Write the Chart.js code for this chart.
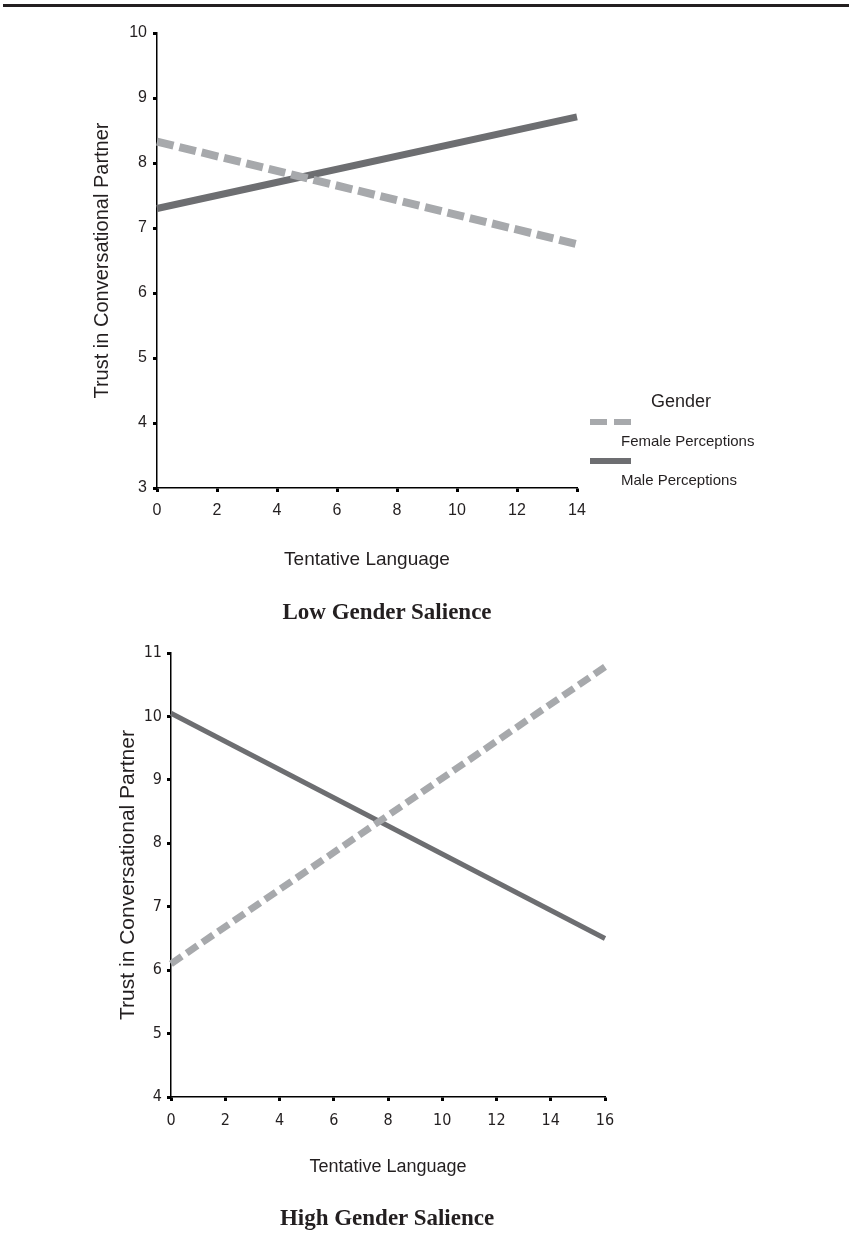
<!DOCTYPE html>
<html>
<head>
<meta charset="utf-8">
<title>Trust in Conversational Partner</title>
<script src="https://cdn.jsdelivr.net/npm/chart.js@4.4.1/dist/chart.umd.min.js"></script>
<style>
    body {
        margin: 0;
        background: #fff;
        width: 852px;
        height: 1233px;
        position: relative;
        overflow: hidden;
    }
    .rule {
        position: absolute;
        left: 3px;
        top: 4px;
        width: 846px;
        height: 3px;
        background: #231f20;
    }
    .box {
        position: absolute;
        left: 0;
        width: 852px;
        height: 600px;
    }
    .caption {
        position: absolute;
        left: 187px;
        width: 400px;
        text-align: center;
        font: bold 23px "Liberation Serif", "Times New Roman", serif;
        line-height: 26px;
        color: #231f20;
    }
</style>
</head>
<body>
<div class="rule"></div>
<div class="box" style="top:0"><canvas id="lowChart" width="852" height="600"></canvas></div>
<div class="caption" style="top:599px">Low Gender Salience</div>
<div class="box" style="top:620px"><canvas id="highChart" width="852" height="600"></canvas></div>
<div class="caption" style="top:1205px">High Gender Salience</div>

<script>
// Datos
const seriesNames = ["Female Perceptions", "Male Perceptions"];
const legendTitle = "Gender";
const xTitle = "Tentative Language";
const yTitle = "Trust in Conversational Partner";

// Low gender salience (panel superior)
const lowX = [0, 14];
const lowFemale = [8.33, 6.75];
const lowMale = [7.3, 8.71];

// High gender salience (panel inferior)
const highX = [0, 16];
const highFemale = [6.1, 10.78];
const highMale = [10.05, 6.5];

const textColor = "#231f20";
const femaleColor = "#a7a9ac";
const maleColor = "#6d6e71";

function points(xs, ys) {
    return xs.map((x, i) => ({ x: x, y: ys[i] }));
}

// Leyenda dibujada a mano a la derecha del panel superior
const genderLegend = {
    id: "genderLegend",
    afterDraw(chart) {
        const ctx = chart.ctx;
        ctx.save();
        ctx.fillStyle = textColor;
        ctx.textBaseline = "middle";
        ctx.textAlign = "center";
        ctx.font = '18px "Liberation Sans", Arial, sans-serif';
        ctx.fillText(legendTitle, 681, 402);

        ctx.textAlign = "left";
        ctx.font = '15px "Liberation Sans", Arial, sans-serif';
        const rows = [422, 461];
        chart.data.datasets.forEach((ds, i) => {
            ctx.strokeStyle = ds.borderColor;
            ctx.lineWidth = 6;
            ctx.setLineDash(ds.borderDash && ds.borderDash.length ? [17, 7] : []);
            ctx.beginPath();
            ctx.moveTo(590, rows[i]);
            ctx.lineTo(631, rows[i]);
            ctx.stroke();
            ctx.setLineDash([]);
            ctx.fillText(ds.label, 621, rows[i] + 20);
        });
        ctx.restore();
    },
};

function buildChart(id, xs, female, male, opts) {
    const ctx = document.getElementById(id);
    return new Chart(ctx, {
        type: "line",
        data: {
            datasets: [
                {
                    label: seriesNames[0],
                    data: points(xs, female),
                    borderColor: femaleColor,
                    borderWidth: opts.femaleWidth,
                    borderDash: opts.dash,
                    borderCapStyle: "butt",
                    pointRadius: 0,
                    clip: false,
                },
                {
                    label: seriesNames[1],
                    data: points(xs, male),
                    borderColor: maleColor,
                    borderWidth: opts.maleWidth,
                    borderCapStyle: "butt",
                    pointRadius: 0,
                    clip: false,
                },
            ],
        },
        plugins: opts.plugins || [],
        options: {
            responsive: false,
            animation: false,
            layout: { padding: opts.padding },
            plugins: {
                legend: { display: false },
                tooltip: { enabled: false },
            },
            scales: {
                x: {
                    type: "linear",
                    min: xs[0],
                    max: xs[xs.length - 1],
                    afterFit: (scale) => { scale.height = opts.xHeight; },
                    border: { display: true, color: "#000", width: 1.5 },
                    grid: {
                        drawOnChartArea: false,
                        tickLength: 4,
                        tickWidth: 3,
                        tickColor: "#000",
                    },
                    ticks: {
                        stepSize: 2,
                        padding: opts.xTickPad,
                        color: textColor,
                        font: opts.tickFont,
                        maxRotation: 0,
                    },
                    title: {
                        display: true,
                        text: xTitle,
                        color: textColor,
                        font: opts.titleFont,
                        padding: { top: 4, bottom: 4 },
                    },
                },
                y: {
                    min: opts.yMin,
                    max: opts.yMax,
                    afterFit: (scale) => { scale.width = opts.yWidth; },
                    border: { display: true, color: "#000", width: 1.5 },
                    grid: {
                        drawOnChartArea: false,
                        tickLength: 4,
                        tickWidth: 3,
                        tickColor: "#000",
                    },
                    ticks: {
                        stepSize: 1,
                        padding: opts.yTickPad,
                        color: textColor,
                        font: opts.tickFont,
                    },
                    title: {
                        display: true,
                        text: yTitle,
                        color: textColor,
                        font: opts.yTitleFont,
                        padding: { top: 4, bottom: 4 },
                    },
                },
            },
        },
    });
}

buildChart("lowChart", lowX, lowFemale, lowMale, {
    yMin: 3,
    yMax: 10,
    femaleWidth: 8,
    maleWidth: 7,
    dash: [17, 6],
    padding: { left: 86, right: 275, top: 33, bottom: 25 },
    yWidth: 71,
    xHeight: 87,
    xTickPad: 9,
    yTickPad: 6,
    tickFont: { family: '"Liberation Sans", Arial, sans-serif', size: 16 },
    titleFont: { family: '"Liberation Sans", Arial, sans-serif', size: 19 },
    yTitleFont: { family: '"Liberation Sans", Arial, sans-serif', size: 20 },
    plugins: [genderLegend],
});

buildChart("highChart", highX, highFemale, highMale, {
    yMin: 4,
    yMax: 11,
    femaleWidth: 7,
    maleWidth: 5,
    dash: [13, 6],
    padding: { left: 112, right: 247, top: 33, bottom: 38 },
    yWidth: 59,
    xHeight: 85,
    xTickPad: 10,
    yTickPad: 5,
    tickFont: { family: '"Liberation Sans Narrow", "DejaVu Sans Condensed", Arial, sans-serif', size: 16 },
    titleFont: { family: '"Liberation Sans", Arial, sans-serif', size: 18 },
    yTitleFont: { family: '"Liberation Sans", Arial, sans-serif', size: 21 },
});
</script>
</body>
</html>
